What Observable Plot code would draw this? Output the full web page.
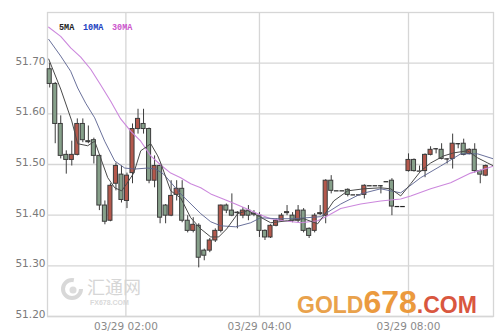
<!DOCTYPE html>
<html><head><meta charset="utf-8">
<script src="https://cdn.jsdelivr.net/npm/d3@7"></script>
<script src="https://cdn.jsdelivr.net/npm/@observablehq/plot@0.6"></script>
<style>
body{margin:0;background:#fff;}
#wrap{position:relative;width:499px;height:336px;overflow:hidden;}
#over{position:absolute;left:0;top:0;pointer-events:none;}
</style></head><body><div id="wrap"></div>
<script>
// Candle data (index order, 5-minute bars)
const opens  = [51.688,51.659,51.580,51.519,51.509,51.519,51.580,51.546,51.548,51.517,
                51.419,51.389,51.462,51.480,51.428,51.483,51.570,51.580,51.570,51.468,
                51.497,51.419,51.399,51.440,51.452,51.389,51.369,51.379,51.330,51.330,
                51.350,51.369,51.419,51.409,51.405,51.399,51.409,51.403,51.399,51.369,
                51.356,51.379,51.389,51.404,51.399,51.389,51.409,51.373,51.369,51.402,
                51.399,51.468,51.448,51.448,51.450,51.440,51.440,51.440,51.458,51.458,
                51.458,51.466,51.468,51.417,51.417,51.487,51.509,51.487,51.487,51.519,
                51.531,51.529,51.511,51.511,51.541,51.541,51.521,51.529,51.487,51.478];
const closes = [51.659,51.580,51.517,51.509,51.519,51.580,51.548,51.544,51.517,51.419,
                51.387,51.458,51.497,51.430,51.478,51.570,51.590,51.570,51.468,51.497,
                51.395,51.399,51.438,51.452,51.389,51.369,51.381,51.316,51.320,51.350,
                51.369,51.419,51.409,51.399,51.404,51.409,51.399,51.401,51.369,51.356,
                51.379,51.389,51.399,51.406,51.389,51.409,51.369,51.359,51.399,51.404,
                51.468,51.448,51.448,51.448,51.440,51.440,51.440,51.458,51.458,51.458,
                51.458,51.466,51.417,51.417,51.417,51.509,51.487,51.487,51.519,51.529,
                51.531,51.511,51.511,51.541,51.541,51.519,51.529,51.487,51.480,51.497];
const highs  = [51.700,51.662,51.596,51.527,51.546,51.590,51.590,51.576,51.552,51.519,
                51.428,51.462,51.503,51.497,51.483,51.580,51.609,51.609,51.572,51.517,
                51.501,51.421,51.468,51.468,51.468,51.399,51.395,51.383,51.333,51.354,
                51.373,51.420,51.422,51.442,51.407,51.415,51.419,51.409,51.405,51.371,
                51.381,51.393,51.403,51.419,51.405,51.419,51.413,51.375,51.403,51.419,
                51.470,51.478,51.448,51.448,51.452,51.440,51.440,51.460,51.458,51.458,
                51.458,51.466,51.472,51.417,51.417,51.521,51.511,51.497,51.521,51.535,
                51.531,51.541,51.511,51.560,51.541,51.550,51.531,51.541,51.489,51.499];
const lows   = [51.651,51.541,51.511,51.481,51.497,51.517,51.543,51.541,51.501,51.409,
                51.381,51.387,51.448,51.424,51.413,51.462,51.560,51.560,51.462,51.454,
                51.383,51.383,51.397,51.428,51.385,51.365,51.365,51.296,51.310,51.326,
                51.346,51.365,51.403,51.397,51.373,51.393,51.389,51.397,51.356,51.350,
                51.354,51.377,51.387,51.399,51.385,51.385,51.365,51.354,51.365,51.399,
                51.383,51.442,51.448,51.448,51.436,51.440,51.440,51.432,51.458,51.458,
                51.442,51.466,51.399,51.417,51.417,51.485,51.485,51.487,51.474,51.517,
                51.521,51.509,51.501,51.491,51.531,51.517,51.519,51.483,51.462,51.476];

// Moving averages (bar index, price)
const ma5Idx = [-0.18,1.99,3.99,5.07,6.88,8.15,9.42,10.51,11.78,13.04,13.95,15.22,16.49,18.30,19.57,20.11,21.92,23.73,25.54,27.36,29.17,30.62,32.07,34.06,35.87,37.68,40.04,43.12,46.01,48.55,49.64,51.45,53.99,56.88,59.96,61.78,63.59,65.40,67.21,69.02,71.38,73.19,75.72,77.54,79.35,80.43];
const ma5Val = [51.708,51.649,51.586,51.541,51.537,51.546,51.507,51.474,51.454,51.448,51.462,51.483,51.527,51.541,51.517,51.503,51.448,51.434,51.395,51.373,51.357,51.357,51.373,51.403,51.409,51.399,51.385,51.389,51.393,51.383,51.399,51.428,51.448,51.452,51.454,51.452,51.438,51.462,51.487,51.503,51.517,51.523,51.527,51.513,51.503,51.497];
const ma10Idx = [-0.18,1.99,3.80,5.07,6.52,8.15,9.96,11.78,13.59,15.40,17.75,19.20,20.65,23.73,27.36,29.17,30.98,33.70,36.41,38.22,40.94,44.20,49.09,52.72,56.34,59.96,63.59,67.21,70.83,74.46,77.54,80.43];
const ma10Val = [51.747,51.714,51.684,51.651,51.621,51.592,51.546,51.507,51.493,51.491,51.493,51.491,51.481,51.442,51.403,51.387,51.379,51.377,51.385,51.395,51.393,51.393,51.397,51.422,51.442,51.452,51.444,51.474,51.497,51.521,51.521,51.511];
const ma30Idx = [-0.18,1.99,3.80,5.62,7.43,9.24,11.05,12.86,14.67,16.49,18.30,20.11,21.92,23.73,25.54,27.36,29.17,30.98,32.79,35.14,37.68,40.04,42.39,45.47,48.55,50.36,52.72,56.34,59.96,63.59,65.40,69.02,72.64,76.27,79.35,80.43];
const ma30Val = [51.771,51.753,51.730,51.712,51.688,51.657,51.625,51.590,51.566,51.546,51.517,51.499,51.483,51.474,51.462,51.454,51.442,51.434,51.426,51.415,51.403,51.393,51.389,51.385,51.389,51.399,51.413,51.422,51.428,51.432,51.438,51.452,51.464,51.483,51.493,51.497];

// Axis ticks
const xTickIdx = [13.8, 38, 65];
const xTickLabels = ["03/29 02:00", "03/29 04:00", "03/29 08:00"];
const yTicks = [51.2, 51.3, 51.4, 51.5, 51.6, 51.7];
const maNames = ["5MA", "10MA", "30MA"];

const candles = opens.map((o, i) => ({i, o, c: closes[i], h: highs[i], l: lows[i]}));
const bodies = candles.filter(d => d.o !== d.c);
const flats = candles.filter(d => d.o === d.c);
const mkLine = (idx, val) => idx.map((x, k) => ({x, y: val[k]}));

const GRID = "#d6d6d6";
const OUT = "#3c3c3c";

const chart = Plot.plot({
  width: 499, height: 336,
  marginLeft: 47, marginRight: 6, marginTop: 12, marginBottom: 20,
  style: {fontFamily: "DejaVu Sans, sans-serif", fontSize: "10.5px", color: "#7a7a7a", background: "transparent"},
  x: {type: "linear", domain: [-0.4, 80.4]},
  y: {domain: [51.2, 51.8]},
  marks: [
    Plot.gridY(yTicks, {stroke: GRID, strokeOpacity: 1, strokeWidth: 1.3}),
    Plot.gridX(xTickIdx, {stroke: GRID, strokeOpacity: 1, strokeWidth: 1.3}),
    Plot.frame({stroke: GRID, strokeWidth: 1.3}),
    Plot.axisY(yTicks, {tickSize: 0, tickPadding: 2, dy: -2, tickFormat: d => d.toFixed(2), fill: "#7a7a7a"}),
    Plot.axisX(xTickIdx, {tickSize: 0, tickPadding: 6, tickFormat: d => xTickLabels[xTickIdx.indexOf(d)], fill: "#8a8a8a"}),
    Plot.ruleX(candles, {x: "i", y1: "l", y2: "h", stroke: OUT, strokeWidth: 1}),
    Plot.rect(bodies, {x1: d => d.i - 0.37, x2: d => d.i + 0.37, y1: "o", y2: "c",
      fill: d => d.c > d.o ? "#b4584c" : "#86a08a", stroke: OUT, strokeWidth: 1}),
    Plot.ruleY(flats, {y: "o", x1: d => d.i - 0.42, x2: d => d.i + 0.42, stroke: "#222", strokeWidth: 1.2}),
    Plot.line(mkLine(ma30Idx, ma30Val), {x: "x", y: "y", stroke: "#cc88dd", strokeWidth: 1.1, clip: true}),
    Plot.line(mkLine(ma10Idx, ma10Val), {x: "x", y: "y", stroke: "#5a6290", strokeWidth: 1, strokeOpacity: 0.9, clip: true}),
    Plot.line(mkLine(ma5Idx, ma5Val), {x: "x", y: "y", stroke: "#4a4a4a", strokeWidth: 1, clip: true})
  ]
});
const wrap = document.getElementById("wrap");
wrap.appendChild(chart);

// Legend and watermarks overlay (real text)
const ns = "http://www.w3.org/2000/svg";
const over = document.createElementNS(ns, "svg");
over.setAttribute("id", "over");
over.setAttribute("width", 499);
over.setAttribute("height", 336);
over.innerHTML = `
  <g font-family="Liberation Mono, DejaVu Sans Mono, monospace" font-size="8.5" font-weight="bold">
    <text x="59" y="30" fill="#222">${maNames[0]}</text>
    <text x="83" y="30" fill="#2040c0">${maNames[1]}</text>
    <text x="112" y="30" fill="#cc55cc">${maNames[2]}</text>
  </g>
  <g opacity="0.9">
    <circle cx="72" cy="289" r="9" fill="none" stroke="#d4d4d4" stroke-width="4" stroke-dasharray="44 13"/>
    <circle cx="73" cy="290" r="3.5" fill="#d9d9d9"/>
    <text x="87" y="294" font-family="Noto Sans CJK SC" font-size="18" fill="#d2d2d2">汇通网</text>
    <text x="90" y="305" font-family="Liberation Sans" font-weight="bold" font-size="7" fill="#d6d6d6">FX678.COM</text>
  </g>
  <text x="297" y="313" font-family="Liberation Sans" font-weight="bold"><tspan font-size="23" fill="#e9a24c">GOLD</tspan><tspan font-size="32" fill="#eb9a3e">678</tspan><tspan font-size="23" fill="#d9573f">.COM</tspan></text>
`;
wrap.appendChild(over);
</script>
</body></html>
